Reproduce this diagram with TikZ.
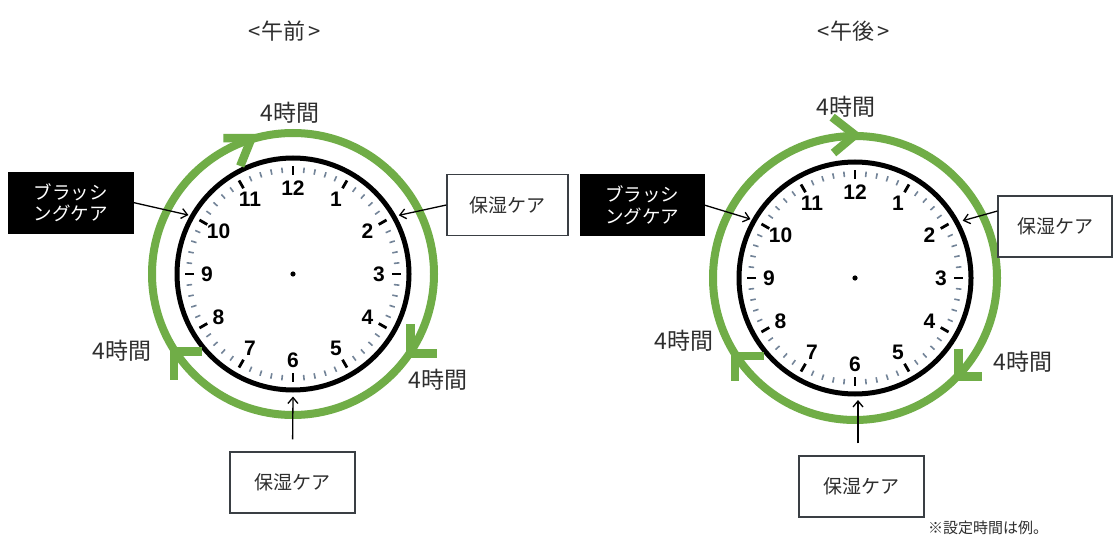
\documentclass[tikz,border=0pt]{standalone}
\usepackage{fontspec}
\setmainfont{Liberation Sans}
\newfontfamily\jp{Noto Sans CJK JP}
\usetikzlibrary{arrows.meta,calc}
\definecolor{grn}{HTML}{70AD47}
\definecolor{tickc}{RGB}{115,132,152}
\definecolor{txt}{HTML}{2E2E2E}
\definecolor{boxline}{HTML}{3A3F44}
\tikzset{
  clockring/.style={line width=5pt},
  greenring/.style={grn, line width=8pt},
  chev/.style={grn, line width=8.5pt, line join=miter, line cap=butt},
  minute/.style={tickc, line width=1.6pt},
  hourtick/.style={black, line width=2.8pt},
  num/.style={font=\fontsize{21}{21}\selectfont\bfseries, inner sep=0pt},
  hrs/.style={font=\jp\fontsize{23}{23}\selectfont, text=txt, inner sep=0pt},
  ttl/.style={font=\jp\fontsize{22}{22}\selectfont, text=txt, inner sep=0pt},
  note/.style={font=\jp\fontsize{15}{15}\selectfont, text=txt, inner sep=0pt},
  whitebox/.style={draw=boxline, line width=1.3pt, fill=white, minimum height=61pt,
    font=\jp\fontsize{19}{19}\selectfont, text=txt, inner sep=0pt},
  blackbox/.style={fill=black, draw=black, minimum width=125pt, minimum height=61pt,
    text=white, font=\jp\fontsize{18.5}{21.5}\selectfont, align=center, inner sep=0pt},
  pointer/.style={line width=1.3pt, -{Straight Barb[length=6pt,width=10pt,line width=1.3pt]}},
  clockface/.pic={
    \foreach \m in {0,...,59}{\draw[minute] (\m*6:101.5) -- (\m*6:107);}
    \foreach \h in {1,...,12}{
      \draw[hourtick] (90-\h*30:99) -- (90-\h*30:108);
      \node[num] (-n\h) at (90-\h*30:86) {\h};}
    \fill (0,0) circle (2.6);
    \draw[clockring] (0,0) circle (116);
  }
}
\begin{document}
\begin{tikzpicture}[x=1pt,y=1pt]
\useasboundingbox (0,0) rectangle (1114,539);
\fill[white] (0,0) rectangle (1114,539);

% centres
\coordinate (cL) at (293,265);
\coordinate (cR) at (855,261);

% titles
\node[ttl] (tAM) at (285,508) {<午前\hspace{4pt}>};
\node[ttl] (tPM) at (854,508) {<午後\hspace{4pt}>};

% ---------- left clock ----------
\draw[greenring] (cL) circle (141);
\pic (LC) at (cL) {clockface};
\coordinate (aL1) at ($(cL)+(107:142)$);
\coordinate (aL2) at ($(cL)+(-34:142)$);
\coordinate (aL3) at ($(cL)+(213:142)$);
\draw[chev] ($(aL1)+(180:28)$) -- (aL1) -- ($(aL1)+(248:30)$);
\draw[chev] ($(aL2)+(90:29)$) -- (aL2) -- ($(aL2)+(0:26)$);
\draw[chev] ($(aL3)+(0:28)$) -- (aL3) -- ($(aL3)+(270:29)$);

\node[hrs] (hL1) at (290,426) {4時間};
\node[hrs] (hL2) at (122,188) {4時間};
\node[hrs] (hL3) at (438,159) {4時間};

\node[blackbox] (bL1) at (70.5,336.5) {ブラッシ\\ングケア};
\node[whitebox, minimum width=121pt] (bL2) at (507.5,334) {保湿ケア};
\node[whitebox, minimum width=125pt] (bL3) at (292.5,56.5) {保湿ケア};

\coordinate (pL1) at ($(cL)+(150.6:120)$);
\coordinate (pL2) at ($(cL)+(29:121)$);
\coordinate (pL3) at ($(cL)+(-90:122.5)$);
\draw[pointer] (bL1.east) -- (pL1);
\draw[pointer] (bL2.west) -- (pL2);
\draw[pointer, shorten <=12pt] (bL3.north) -- (pL3);

% ---------- right clock ----------
\draw[greenring] (cR) circle (142);
\pic (RC) at (cR) {clockface};
\coordinate (aR1) at ($(cR)+(90:143)$);
\coordinate (aR2) at ($(cR)+(-43.6:143)$);
\coordinate (aR3) at ($(cR)+(213:143)$);
\draw[chev] ($(aR1)+(142:29)$) -- (aR1) -- ($(aR1)+(220:28)$);
\draw[chev] ($(aR2)+(90:28)$) -- (aR2) -- ($(aR2)+(0:23)$);
\draw[chev] ($(aR3)+(0:29)$) -- (aR3) -- ($(aR3)+(270:25)$);

\node[hrs] (hR1) at (846,432) {4時間};
\node[hrs] (hR2) at (684,198) {4時間};
\node[hrs] (hR3) at (1023,177) {4時間};

\node[blackbox, minimum width=124pt] (bR1) at (642,334) {ブラッシ\\ングケア};
\node[whitebox, minimum width=114pt] (bR2) at (1055,312.5) {保湿ケア};
\node[whitebox, minimum width=125pt] (bR3) at (861.5,52.5) {保湿ケア};

\coordinate (pR1) at ($(cR)+(150.6:120)$);
\coordinate (pR2) at ($(cR)+(28:122)$);
\coordinate (pR3) at ($(cR)+(0,-122)+(3,0)$);
\draw[pointer] (bR1.east) -- (pR1);
\draw[pointer] (bR2.165) -- (pR2);
\draw[pointer, shorten <=12pt] (bR3.north -| pR3) -- (pR3);

\node[note] (nt) at (988,11.5) {※設定時間は例。};
\end{tikzpicture}
\end{document}
